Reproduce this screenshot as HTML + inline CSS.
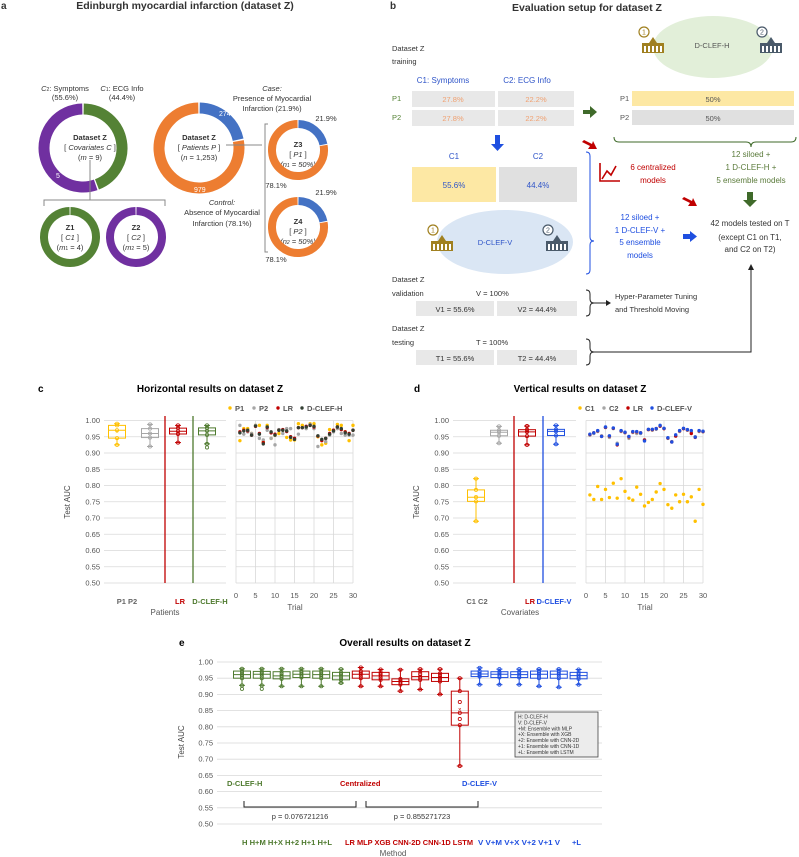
<!DOCTYPE html>
<html><head><meta charset="utf-8"><style>
body{margin:0;background:#fff}
svg{display:block;font-family:"Liberation Sans",sans-serif}
</style></head><body>
<svg id="fig" width="799" height="857" viewBox="0 0 799 857" xmlns="http://www.w3.org/2000/svg">
<g id="static" font-size="7.5" fill="#333">
<text x="1" y="9" font-size="10" font-weight="bold">a</text>
<text x="185" y="9" font-size="10.5" font-weight="bold" text-anchor="middle">Edinburgh myocardial infarction (dataset Z)</text>
<text x="390" y="9" font-size="10" font-weight="bold">b</text>
<text x="587" y="11" font-size="10.5" font-weight="bold" text-anchor="middle">Evaluation setup for dataset Z</text>
<g text-anchor="middle">
<text x="65" y="91"><tspan font-style="italic">C</tspan><tspan font-size="5">2</tspan>: Symptoms</text><text x="65" y="100">(55.6%)</text>
<text x="122" y="91"><tspan font-style="italic">C</tspan><tspan font-size="5">1</tspan>: ECG Info</text><text x="122" y="100">(44.4%)</text>
<text x="90" y="140" font-weight="bold">Dataset Z</text><text x="90" y="150">[ <tspan font-style="italic">Covariates C</tspan> ]</text><text x="90" y="160">(<tspan font-style="italic">m</tspan> = 9)</text>
<text x="70" y="230" font-weight="bold">Z1</text><text x="70" y="240">[ <tspan font-style="italic">C1</tspan> ]</text><text x="70" y="250">(<tspan font-style="italic">m</tspan><tspan font-size="5">1</tspan> = 4)</text>
<text x="136" y="230" font-weight="bold">Z2</text><text x="136" y="240">[ <tspan font-style="italic">C2</tspan> ]</text><text x="136" y="250">(<tspan font-style="italic">m</tspan><tspan font-size="5">2</tspan> = 5)</text>
<text x="199" y="140" font-weight="bold">Dataset Z</text><text x="199" y="150">[ <tspan font-style="italic">Patients P</tspan> ]</text><text x="199" y="160">(<tspan font-style="italic">n</tspan> = 1,253)</text>
<text x="272" y="91" font-style="italic">Case:</text><text x="272" y="101">Presence of Myocardial</text><text x="272" y="111">Infarction (21.9%)</text>
<text x="222" y="205" font-style="italic">Control:</text><text x="222" y="215">Absence of Myocardial</text><text x="222" y="226">Infarction (78.1%)</text>
<text x="298" y="147" font-weight="bold">Z3</text><text x="298" y="157">[ <tspan font-style="italic">P1</tspan> ]</text><text x="298" y="167" font-style="italic">(n<tspan font-size="5">1</tspan> = 50%)</text>
<text x="298" y="224" font-weight="bold">Z4</text><text x="298" y="234">[ <tspan font-style="italic">P2</tspan> ]</text><text x="298" y="244" font-style="italic">(n<tspan font-size="5">2</tspan> = 50%)</text>
<text x="326" y="121">21.9%</text><text x="326" y="195">21.9%</text><text x="276" y="188">78.1%</text><text x="276" y="262">78.1%</text>
</g>
<g id="rings"></g>
<path d="M90,160 V200 M44,206 V200 H165 V206" stroke="#888" fill="none"/>
<path d="M226,145 H262 M268,124 H265 V252 H268" stroke="#888" fill="none"/>
<ellipse cx="713" cy="47" rx="60" ry="31" fill="#e2efd9"/>
<text x="712" y="48" text-anchor="middle" fill="#555">D-CLEF-H</text>
<ellipse cx="505" cy="242" rx="68" ry="32" fill="#dae6f4"/>
<text x="495" y="245" text-anchor="middle" fill="#2e54c8">D-CLEF-V</text>
<g id="icons"></g>
<text x="392" y="51">Dataset Z</text><text x="392" y="64">training</text>
<text x="443" y="83" text-anchor="middle" fill="#2e54c8" font-size="8">C1: Symptoms</text>
<text x="527" y="83" text-anchor="middle" fill="#2e54c8" font-size="8">C2: ECG Info</text>
<text x="392" y="101" fill="#548235">P1</text><text x="392" y="120" fill="#548235">P2</text>
<g fill="#e8e8e8">
<rect x="412" y="91" width="83" height="16"/><rect x="498" y="91" width="76" height="16"/>
<rect x="412" y="110" width="83" height="16"/><rect x="498" y="110" width="76" height="16"/></g>
<g text-anchor="middle" fill="#f0a070"><text x="453" y="102">27.8%</text><text x="536" y="102">22.2%</text><text x="453" y="121">27.8%</text><text x="536" y="121">22.2%</text></g>
<path d="M583,110 h7 v-4 l7,6 l-7,6 v-4 h-7z" fill="#3f6a2a"/>
<text x="620" y="101" fill="#555">P1</text><text x="620" y="120" fill="#555">P2</text>
<rect x="632" y="91" width="162" height="15" fill="#fde8a4"/>
<rect x="632" y="110" width="162" height="15" fill="#e0e0e0"/>
<text x="713" y="102" text-anchor="middle" fill="#555">50%</text><text x="713" y="121" text-anchor="middle" fill="#555">50%</text>
<path d="M614,137 q0,5 5,5 H746 q5,0 5,5 q0,-5 5,-5 H791 q5,0 5,-5" stroke="#3f6a2a" fill="none"/>
<g text-anchor="middle" fill="#5a7a3a" font-size="8"><text x="751" y="157">12 siloed +</text><text x="751" y="170">1 D-CLEF-H +</text><text x="751" y="183">5 ensemble models</text></g>
<path d="M747,192 h6 v8 h4 l-7,7 l-7,-7 h4z" fill="#3f6a2a"/>
<path d="M495,135 h5 v9 h4 l-6.5,7 l-6.5,-7 h4z" fill="#1f4fe0"/>
<text x="454" y="159" text-anchor="middle" fill="#2e54c8" font-size="8">C1</text><text x="538" y="159" text-anchor="middle" fill="#2e54c8" font-size="8">C2</text>
<rect x="412" y="167" width="84" height="35" fill="#fde8a4"/>
<rect x="499" y="167" width="78" height="35" fill="#e0e0e0"/>
<text x="454" y="188" text-anchor="middle" fill="#2e54c8" font-size="8">55.6%</text><text x="538" y="188" text-anchor="middle" fill="#2e54c8" font-size="8">44.4%</text>
<path d="M584,140 l8,4 l1,-3 l4,8 l-9,0 l2,-3 l-8,-4z" fill="#c00000"/>
<path d="M684,197 l8,4 l1,-3 l4,8 l-9,0 l2,-3 l-8,-4z" fill="#c00000"/>
<path d="M586,152 q4,0 4,4 V237 q0,4 4,4 q-4,0 -4,4 V270 q0,4 -4,4" stroke="#1f4fe0" fill="none"/>
<path d="M600,163 v18 h20 M602,179 l5,-8 l4,4 l5,-9" stroke="#c00000" stroke-width="1.6" fill="none"/>
<g text-anchor="middle" fill="#c00000" font-size="8"><text x="653" y="170">6 centralized</text><text x="653" y="183">models</text></g>
<g text-anchor="middle" fill="#1f4fe0" font-size="8"><text x="640" y="220">12 siloed +</text><text x="640" y="233">1 D-CLEF-V +</text><text x="640" y="245">5 ensemble</text><text x="640" y="258">models</text></g>
<path d="M683,234 h7 v-3 l7,5.5 l-7,5.5 v-3 h-7z" fill="#1f4fe0"/>
<g text-anchor="middle" font-size="8"><text x="750" y="226">42 models tested on T</text><text x="750" y="240">(except C1 on T1,</text><text x="750" y="252">and C2 on T2)</text></g>
<text x="392" y="282">Dataset Z</text><text x="392" y="296">validation</text><text x="476" y="296">V = 100%</text>
<rect x="416" y="301" width="78" height="15" fill="#e8e8e8"/><rect x="497" y="301" width="80" height="15" fill="#e8e8e8"/>
<text x="455" y="312" text-anchor="middle">V1 = 55.6%</text><text x="537" y="312" text-anchor="middle">V2 = 44.4%</text>
<text x="392" y="331">Dataset Z</text><text x="392" y="345">testing</text><text x="476" y="345">T = 100%</text>
<rect x="416" y="350" width="78" height="15" fill="#e8e8e8"/><rect x="497" y="350" width="80" height="15" fill="#e8e8e8"/>
<text x="455" y="361" text-anchor="middle">T1 = 55.6%</text><text x="537" y="361" text-anchor="middle">T2 = 44.4%</text>
<path d="M586,290 q4,0 4,4 v5 q0,4 4,4 q-4,0 -4,4 v5 q0,4 -4,4 M594,303 H606" stroke="#222" fill="none"/>
<path d="M606,300 l5,3 l-5,3z" fill="#222"/>
<text x="615" y="299">Hyper-Parameter Tuning</text><text x="615" y="312">and Threshold Moving</text>
<path d="M586,339 q4,0 4,4 v5 q0,4 4,4 q-4,0 -4,4 v5 q0,4 -4,4 M594,352 H751 V268" stroke="#222" fill="none"/>
<path d="M748,270 l3,-6 l3,6z" fill="#222"/>
</g>
<g id="charts"></g>
</svg>
<script>
// ---- panel c data (trials 1..30) ----
const trialsC = [1,2,3,4,5,6,7,8,9,10,11,12,13,14,15,16,17,18,19,20,21,22,23,24,25,26,27,28,29,30];
const p1Auc = [0.938,0.975,0.975,0.96,0.985,0.985,0.935,0.985,0.945,0.955,0.96,0.97,0.948,0.94,0.94,0.99,0.985,0.98,0.99,0.99,0.95,0.925,0.93,0.972,0.97,0.988,0.985,0.965,0.938,0.985];
const p2Auc = [0.985,0.958,0.965,0.96,0.985,0.945,0.94,0.97,0.945,0.925,0.972,0.96,0.975,0.975,0.945,0.958,0.978,0.975,0.988,0.975,0.92,0.94,0.935,0.955,0.965,0.975,0.96,0.955,0.955,0.955];
const lrAucC = [0.965,0.97,0.968,0.955,0.982,0.96,0.932,0.978,0.962,0.958,0.97,0.972,0.966,0.95,0.945,0.978,0.978,0.982,0.985,0.98,0.952,0.938,0.945,0.96,0.97,0.98,0.972,0.965,0.96,0.97];
const hAuc = [0.962,0.968,0.97,0.955,0.983,0.958,0.928,0.98,0.965,0.955,0.97,0.97,0.968,0.948,0.942,0.978,0.978,0.98,0.985,0.982,0.953,0.942,0.945,0.958,0.968,0.98,0.975,0.962,0.958,0.97];
// ---- panel d data ----
const trialsD = trialsC;
const c1Auc = [0.771,0.757,0.797,0.757,0.788,0.763,0.807,0.761,0.821,0.782,0.761,0.755,0.795,0.773,0.737,0.748,0.757,0.78,0.806,0.788,0.741,0.73,0.771,0.75,0.773,0.75,0.765,0.69,0.788,0.742];
const c2Auc = [0.955,0.96,0.966,0.953,0.978,0.948,0.975,0.93,0.966,0.962,0.945,0.963,0.96,0.96,0.94,0.972,0.97,0.973,0.982,0.975,0.945,0.935,0.953,0.966,0.975,0.97,0.965,0.95,0.966,0.965];
const lrAucD = [0.957,0.962,0.968,0.951,0.979,0.952,0.976,0.925,0.968,0.963,0.95,0.965,0.965,0.962,0.94,0.972,0.972,0.975,0.983,0.975,0.946,0.934,0.952,0.968,0.975,0.971,0.96,0.948,0.968,0.966];
const vAuc = [0.958,0.962,0.969,0.951,0.98,0.953,0.977,0.927,0.969,0.964,0.951,0.966,0.966,0.962,0.937,0.973,0.973,0.975,0.985,0.976,0.947,0.934,0.956,0.969,0.976,0.972,0.969,0.949,0.969,0.967];
// ---- panel e data (box statistics per method) ----
const methods = ["H","H+M","H+X","H+2","H+1","H+L","LR","MLP","XGB","CNN-2D","CNN-1D","LSTM","V","V+M","V+X","V+2","V+1","V+L"];
const eMin = [0.928,0.928,0.925,0.925,0.925,0.935,0.925,0.925,0.910,0.915,0.900,0.679,0.930,0.930,0.930,0.925,0.922,0.930];
const eQ1  = [0.950,0.950,0.948,0.952,0.950,0.945,0.950,0.945,0.930,0.945,0.940,0.805,0.955,0.952,0.952,0.950,0.950,0.948];
const eMed = [0.961,0.962,0.957,0.962,0.961,0.957,0.962,0.957,0.940,0.955,0.952,0.843,0.963,0.962,0.961,0.962,0.962,0.958];
const eQ3  = [0.972,0.971,0.970,0.972,0.972,0.968,0.972,0.968,0.948,0.970,0.965,0.910,0.972,0.970,0.970,0.972,0.972,0.968];
const eMax = [0.979,0.979,0.979,0.979,0.979,0.978,0.983,0.977,0.976,0.978,0.978,0.950,0.982,0.978,0.978,0.978,0.978,0.977];
const eOut = [0.917,0.917,null,null,null,null,null,null,null,null,null,null,null,null,null,null,null,null];
const yTicks = [0.50,0.55,0.60,0.65,0.70,0.75,0.80,0.85,0.90,0.95,1.00];
const xTicksTrial = [0,5,10,15,20,25,30];

const NS="http://www.w3.org/2000/svg";
const root=document.getElementById('charts');
function mk(tag,attrs,parent){const e=document.createElementNS(NS,tag);for(const k in attrs)e.setAttribute(k,attrs[k]);(parent||root).appendChild(e);return e;}
function txt(x,y,s,attrs,parent){const t=mk('text',Object.assign({x:x,y:y},attrs||{}),parent);t.textContent=s;return t;}
const GREEN="#4e7a2e",RED="#c00000",BLUE="#1f4fe0",YEL="#ffc000",GRAY="#a6a6a6",DARK="#333f33";

const rings=document.getElementById('rings');
function arc(cx,cy,r,a0,a1,color,w){
  const p=a=>[cx+r*Math.sin(a*Math.PI/180),cy-r*Math.cos(a*Math.PI/180)];
  const [x0,y0]=p(a0),[x1,y1]=p(a1);const large=(a1-a0)>180?1:0;
  const e=mk('path',{d:`M${x0},${y0} A${r},${r} 0 ${large} 1 ${x1},${y1}`,stroke:color,'stroke-width':w,fill:'none'},rings);
  
  
}
arc(83,148,39,1,159,"#548235",11);arc(83,148,39,161,359,"#7030a0",11);
arc(199,148,40,1,78,"#4472c4",11);arc(199,148,40,80,359,"#ed7d31",11);
arc(298,150,26,1,78,"#4472c4",8);arc(298,150,26,80,359,"#ed7d31",8);
arc(298,227,26,1,78,"#4472c4",8);arc(298,227,26,80,359,"#ed7d31",8);
arc(70,237,26,1,359,"#548235",8);arc(136,237,26,1,359,"#7030a0",8);
txt(123,127,"4",{fill:"#fff","font-size":7},rings);txt(56,178,"5",{fill:"#fff","font-size":7},rings);
txt(219,116,"274",{fill:"#fff","font-size":7},rings);txt(194,192,"979",{fill:"#fff","font-size":7},rings);

const icons=document.getElementById('icons');
function hosp(x,y,n,col){
  const g=mk('g',{},icons);
  
  
  mk('circle',{cx:x-8,cy:y-13,r:5,fill:'#fff',stroke:col,'stroke-width':1.2},g);
  txt(x-8,y-10.5,n,{'text-anchor':'middle','font-size':7,fill:col},g);
  mk('rect',{x:x-10,y:y-2,width:22,height:10,fill:col},g);
  mk('path',{d:`M${x-3},${y-2} l4,-6 l4,6z`,fill:col},g);
  for(let i=0;i<5;i++)mk('rect',{x:x-8+i*4,y:y+1,width:2,height:6,fill:'#fff'},g);
}
hosp(652,45,"1","#a08020");hosp(770,45,"2","#4a5a6a");hosp(441,243,"1","#a08020");hosp(556,243,"2","#4a5a6a");

function quart(a){const s=[...a].sort((x,y)=>x-y);const q=p=>{const i=(s.length-1)*p,l=Math.floor(i);return s[l]+(s[Math.ceil(i)]-s[l])*(i-l);};return {min:s[0],q1:q(.25),med:q(.5),q3:q(.75),max:s[s.length-1],mean:a.reduce((x,y)=>x+y,0)/a.length};}

function drawBox(cx,w,st,ys,color,pts,grp){
  const g=mk('g',{},grp);
  
  
  mk('line',{x1:cx,x2:cx,y1:ys(st.max),y2:ys(st.q3),stroke:color},g);
  mk('line',{x1:cx,x2:cx,y1:ys(st.q1),y2:ys(st.min),stroke:color},g);
  mk('line',{x1:cx-3,x2:cx+3,y1:ys(st.max),y2:ys(st.max),stroke:color},g);
  mk('line',{x1:cx-3,x2:cx+3,y1:ys(st.min),y2:ys(st.min),stroke:color},g);
  mk('rect',{x:cx-w/2,y:ys(st.q3),width:w,height:ys(st.q1)-ys(st.q3),fill:'none',stroke:color,'stroke-width':1},g);
  mk('line',{x1:cx-w/2,x2:cx+w/2,y1:ys(st.med),y2:ys(st.med),stroke:color},g);
  (pts||[]).forEach(v=>{mk('circle',{cx:cx,cy:ys(v),r:1.6,fill:'none',stroke:color,'stroke-width':0.8},g);});
  if(st.mean!=null)txt(cx,ys(st.mean)+2,"×",{'text-anchor':'middle','font-size':6,fill:color},g);
}

function grid(x0,x1,ys,grp,labels){
  yTicks.forEach(v=>{
    const l=mk('line',{x1:x0,x2:x1,y1:ys(v),y2:ys(v),stroke:'#d9d9d9','stroke-width':0.8},grp);
    
    
    if(labels){const t=txt(x0-4,ys(v)+2.5,v.toFixed(2),{'text-anchor':'end','font-size':7.5,fill:'#555'},grp);
      
      }
  });
}

function panelCD(o){
  const g=mk('g',{});
  
  
  const ys=v=>420.5+(1-v)*325;
  txt(o.lx,392,o.letter,{'font-size':10,'font-weight':'bold'},g);
  txt(o.tx,392,o.title,{'font-size':10,'font-weight':'bold','text-anchor':'middle'},g);
  grid(o.b0,o.b1,ys,g,true);
  const yt=txt(0,0,"Test AUC",{'font-size':8,fill:'#444','text-anchor':'middle',transform:`translate(${o.b0-34},502) rotate(-90)`},g);
  
  
  mk('line',{x1:o.sep1,x2:o.sep1,y1:416,y2:583,stroke:RED,'stroke-width':1.3},g);
  mk('line',{x1:o.sep2,x2:o.sep2,y1:416,y2:583,stroke:o.sepCol,'stroke-width':1.3},g);
  o.series.forEach((s,i)=>{const st=quart(s.data);drawBox(o.boxX[i],17,st,ys,s.color,[st.min,st.q1,st.med,st.q3,st.max].concat(s.out||[]),g);});
  o.xlabels.forEach(l=>txt(l[0],604,l[1],{'font-size':7.5,'font-weight':'bold',fill:l[2],'text-anchor':'middle'},g));
  txt(o.xtitleX,615,o.xtitle,{'font-size':8,fill:'#555','text-anchor':'middle'},g);
  const tx0=o.t0,tx1=o.t0+117;const xs=t=>tx0+(t/30)*117;
  grid(tx0,tx1,ys,g,false);
  xTicksTrial.forEach(t=>{mk('line',{x1:xs(t),x2:xs(t),y1:420.5,y2:583,stroke:'#d9d9d9','stroke-width':0.8},g);
    txt(xs(t),598,String(t),{'font-size':7.5,fill:'#555','text-anchor':'middle'},g);});
  txt(tx0+59,610,"Trial",{'font-size':8,fill:'#555','text-anchor':'middle'},g);
  o.series.forEach(s=>{
    s.data.forEach((v,i)=>{
      const c=mk('circle',{cx:xs(o.trials[i]),cy:ys(v),r:1.7,fill:s.dot},g);
      
      
    });
  });
  let lx=o.t0-6;
  o.series.forEach(s=>{mk('circle',{cx:lx,cy:408,r:1.7,fill:s.dot},g);const t=txt(lx+5,411,s.label,{'font-size':7.5,'font-weight':'bold',fill:'#555'},g);
    
    
    lx+=s.label.length*5+14;});
}
panelCD({name:'panel-c-horizontal',letter:'c',lx:38,tx:210,title:'Horizontal results on dataset Z',b0:104,b1:226,sep1:165,sep2:193,sepCol:GREEN,
  boxX:[117,150,178,207],trials:trialsC,t0:236,
  series:[{data:p1Auc,color:YEL,dot:YEL,label:'P1'},{data:p2Auc,color:GRAY,dot:GRAY,label:'P2'},{data:lrAucC,color:RED,dot:RED,label:'LR'},{data:hAuc,color:GREEN,dot:DARK,label:'D-CLEF-H',out:[0.917]}],
  xlabels:[[127,'P1 P2','#666'],[180,'LR',RED],[210,'D-CLEF-H',GREEN]],xtitle:'Patients',xtitleX:165});
panelCD({name:'panel-d-vertical',letter:'d',lx:414,tx:580,title:'Vertical results on dataset Z',b0:453,b1:576,sep1:514,sep2:543,sepCol:BLUE,
  boxX:[476,499,527,556],trials:trialsD,t0:586,
  series:[{data:c1Auc,color:YEL,dot:YEL,label:'C1'},{data:c2Auc,color:GRAY,dot:GRAY,label:'C2'},{data:lrAucD,color:RED,dot:RED,label:'LR'},{data:vAuc,color:BLUE,dot:BLUE,label:'D-CLEF-V'}],
  xlabels:[[477,'C1 C2','#666'],[530,'LR',RED],[554,'D-CLEF-V',BLUE]],xtitle:'Covariates',xtitleX:520});

(function(){
  const g=mk('g',{});
  
  
  const ys=v=>662+(1-v)*324;
  const xs=i=>242+i*19.8;
  txt(179,646,'e',{'font-size':10,'font-weight':'bold'},g);
  txt(405,646,'Overall results on dataset Z',{'font-size':10,'font-weight':'bold','text-anchor':'middle'},g);
  grid(217,602,ys,g,true);
  txt(0,0,"Test  AUC",{'font-size':8,fill:'#444','text-anchor':'middle',transform:'translate(184,742) rotate(-90)'},g);
  methods.forEach((m,i)=>{
    const col=i<6?GREEN:(i<12?RED:BLUE);
    const st={min:eMin[i],q1:eQ1[i],med:eMed[i],q3:eQ3[i],max:eMax[i],mean:(eQ1[i]+eQ3[i]+eMed[i])/3};
    const pts=[eMin[i],eQ1[i],eMed[i],eQ3[i],eMax[i],(eQ1[i]+eMed[i])/2,(eMed[i]+eQ3[i])/2];
    if(eOut[i]!=null)pts.push(eOut[i]);
    drawBox(xs(i),17,st,ys,col,pts,g);
  });
  const labs=[[242,90,'H H+M H+X H+2 H+1 H+L',GREEN],[345,128,'LR MLP XGB CNN-2D CNN-1D LSTM',RED],[478,82,'V V+M V+X V+2 V+1 V',BLUE],[572,9,'+L',BLUE]];
  labs.forEach(l=>{const t=txt(l[0],845,l[2],{'font-size':7.5,'font-weight':'bold',fill:l[3],textLength:l[1],lengthAdjust:'spacingAndGlyphs'},g);
    
    });
  txt(393,856,'Method',{'font-size':8,fill:'#555','text-anchor':'middle'},g);
  txt(227,786,'D-CLEF-H',{'font-size':7.5,'font-weight':'bold',fill:GREEN},g);
  txt(340,786,'Centralized',{'font-size':7.5,'font-weight':'bold',fill:RED},g);
  txt(462,786,'D-CLEF-V',{'font-size':7.5,'font-weight':'bold',fill:BLUE},g);
  mk('path',{d:'M244,801 v6 H356 v-6 M366,801 v6 H478 v-6',stroke:'#222','stroke-width':1,fill:'none'},g);
  txt(300,819,'p = 0.076721216',{'font-size':7.5,'text-anchor':'middle',fill:'#333'},g);
  txt(422,819,'p = 0.855271723',{'font-size':7.5,'text-anchor':'middle',fill:'#333'},g);
  const lg=mk('g',{},g);
  
  
  mk('rect',{x:515,y:712,width:83,height:45,fill:'#ececec',stroke:'#444','stroke-width':0.8},lg);
  ["H:     D-CLEF-H","V:     D-CLEF-V","+M: Ensemble with MLP","+X:  Ensemble with XGB","+2:  Ensemble with CNN-2D","+1:  Ensemble with CNN-1D","+L:  Ensemble with LSTM"].forEach((s,i)=>txt(518,718.5+i*5.9,s,{'font-size':5,fill:'#333'},lg));
})();
</script>
</body></html>
